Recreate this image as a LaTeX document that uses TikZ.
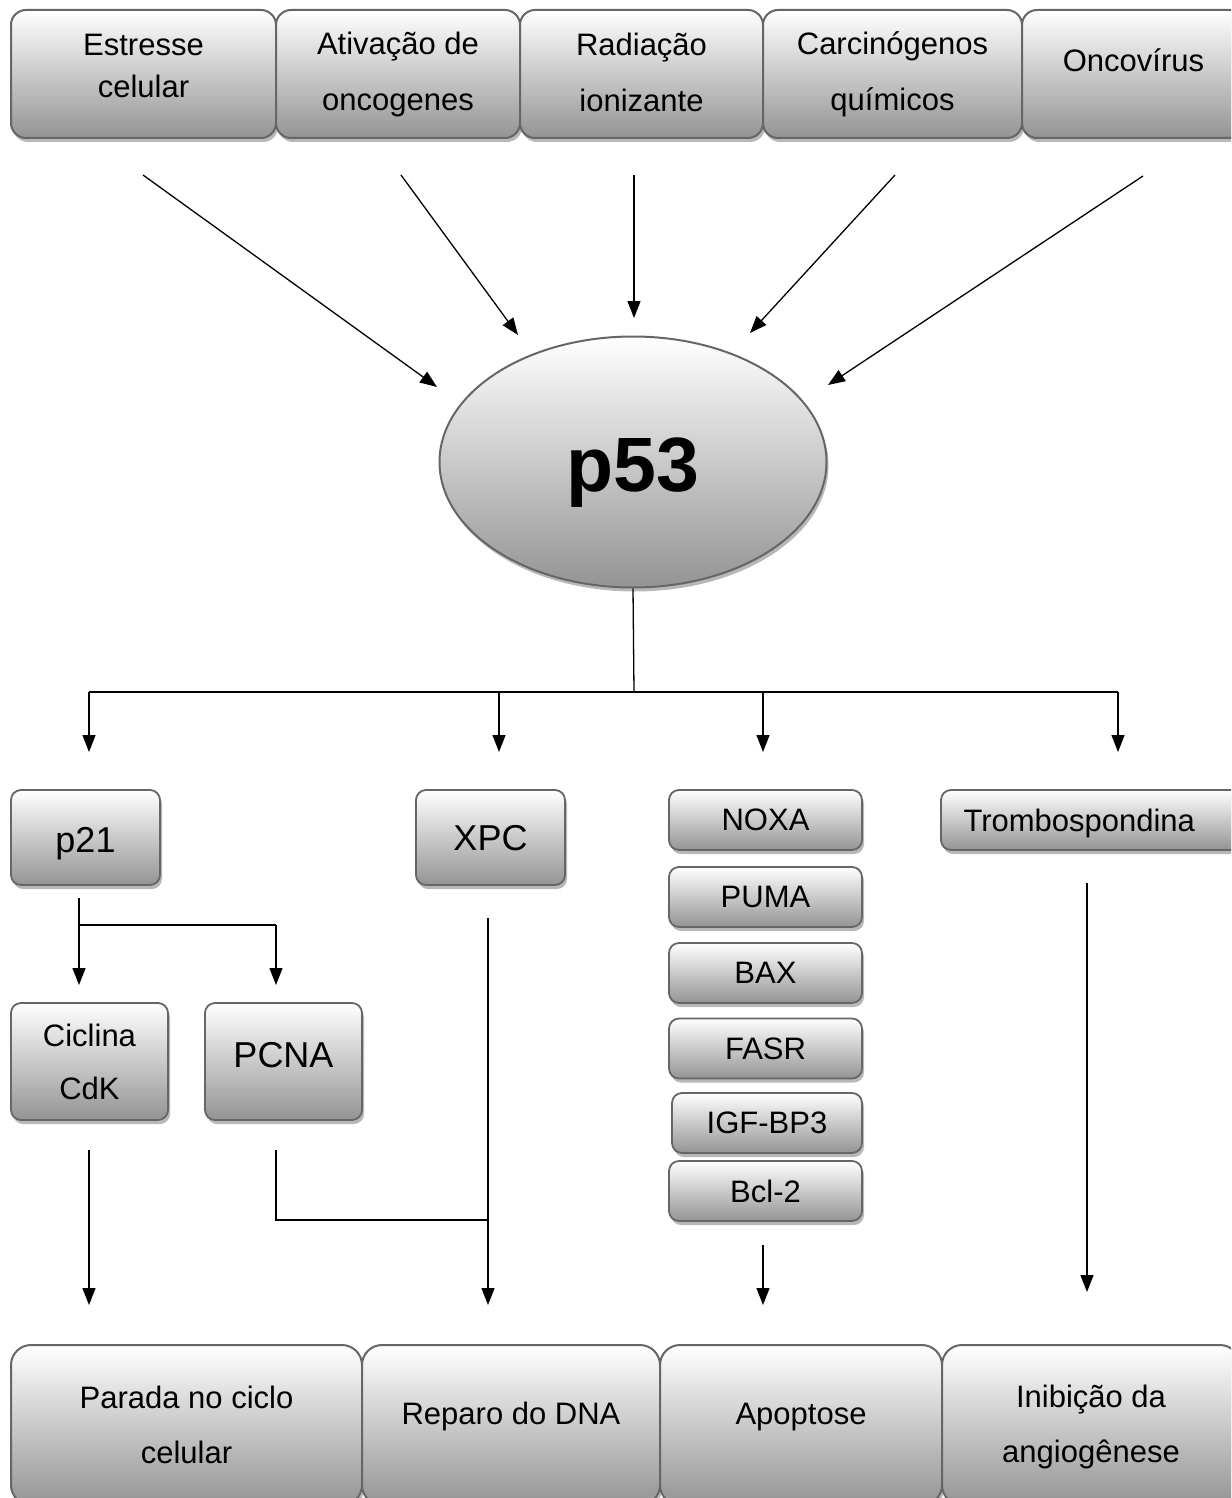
\documentclass[tikz,border=0pt]{standalone}
\usepackage{fontspec}
\setmainfont{Liberation Sans}
\usetikzlibrary{arrows.meta,shapes.geometric,shadows}
\newcommand{\upby}[2]{\raisebox{#1}[\height][\depth]{\begin{tabular}{@{}c@{}}#2\end{tabular}}}
\tikzset{
  gbox/.style={draw=black!60, line width=2pt, top color=white, bottom color=black!42,
    drop shadow={shadow xshift=2pt, shadow yshift=-4pt, fill=black!28, opacity=1},
    align=center, inner sep=0pt, font=\fontsize{31}{56}\selectfont},
  topbox/.style={gbox, rounded corners=15pt, minimum height=128pt},
  midbox/.style={gbox, rounded corners=10pt, line width=1.8pt},
  botbox/.style={gbox, rounded corners=20pt, minimum height=160pt, font=\fontsize{31}{55}\selectfont},
  big/.style={font=\fontsize{36}{44}\selectfont},
  arr/.style={line width=1.3pt, -{Triangle[length=17pt,width=13pt]}},
  ln/.style={line width=1.3pt},
}
\begin{document}
\begin{tikzpicture}[x=1pt,y=-1pt]
\useasboundingbox (0,0) rectangle (1231,1498);
\clip (0,0) rectangle (1231,1498);

% top row
\node[topbox, minimum width=265pt, font=\fontsize{31}{42}\selectfont] (b1) at (143.5,74) {\upby{6pt}{Estresse\\celular}};
\node[topbox, minimum width=244pt] (b2) at (398,74) {Ativação de\\oncogenes};
\node[topbox, minimum width=243pt] (b3) at (641.5,74) {\upby{2pt}{Radiação\\ionizante}};
\node[topbox, minimum width=259pt] (b4) at (892.5,74) {Carcinógenos\\químicos};
\node[topbox, minimum width=223pt] (b5) at (1133.5,74) {\upby{14pt}{Oncovírus}};

% p53
\node[ellipse, draw=black!60, line width=2pt, top color=white, bottom color=black!42,
  drop shadow={shadow xshift=2pt, shadow yshift=-4pt, fill=black!28, opacity=1},
  minimum width=387pt, minimum height=251pt, inner sep=0pt,
  font=\fontsize{77}{80}\selectfont\bfseries] (p53) at (633,462)
  {\upby{-13pt}{p53}};

% arrows into p53
\coordinate (s1) at (143,175); \coordinate (e1) at (437,387);
\coordinate (s2) at (401,175); \coordinate (e2) at (518,335);
\coordinate (s3) at (634,175); \coordinate (e3) at (634,318);
\coordinate (s4) at (895,175); \coordinate (e4) at (750,333);
\coordinate (s5) at (1143,176); \coordinate (e5) at (828,385);
\draw[arr] (s1) -- (e1);
\draw[arr] (s2) -- (e2);
\draw[arr] (s3) -- (e3);
\draw[arr] (s4) -- (e4);
\draw[arr] (s5) -- (e5);

% branch
\coordinate (hub) at (634,692);
\coordinate (hL) at (89,692); \coordinate (hR) at (1118,692);
\coordinate (h2) at (499,692); \coordinate (h3) at (763,692);
\coordinate (a1) at (89,752); \coordinate (a2) at (499,752);
\coordinate (a3) at (763,752); \coordinate (a4) at (1118,752);
\draw[ln] (p53.south) -- (hub);
\draw[ln] (hL) -- (hR);
\draw[arr] (hL) -- (a1);
\draw[arr] (h2) -- (a2);
\draw[arr] (h3) -- (a3);
\draw[arr] (hR) -- (a4);

% middle boxes
\node[midbox, big, minimum width=149pt, minimum height=95pt] (p21) at (85.5,837.5) {\upby{-6pt}{p21}};
\node[midbox, big, minimum width=149pt, minimum height=95pt] (xpc) at (490.5,837.5) {\upby{-4pt}{XPC}};
\node[midbox, minimum width=193pt, minimum height=60pt] (noxa) at (765.5,820) {NOXA};
\node[midbox, minimum width=193pt, minimum height=60pt] (puma) at (765.5,897) {PUMA};
\node[midbox, minimum width=193pt, minimum height=60pt] (bax) at (765.5,973) {BAX};
\node[midbox, minimum width=193pt, minimum height=60pt] (fasr) at (765.5,1048.5) {FASR};
\node[midbox, minimum width=190pt, minimum height=60pt] (igf) at (767,1123) {IGF-BP3};
\node[midbox, minimum width=193pt, minimum height=60pt] (bcl) at (765.5,1191) {Bcl-2};
\node[midbox, minimum width=305pt, minimum height=60pt, text width=290pt, align=left] (trombo) at (1093.5,820) {\hspace*{15pt}\raisebox{-3pt}[\height][\depth]{Trombospondina}};

\node[midbox, minimum width=157pt, minimum height=117pt, font=\fontsize{31}{53}\selectfont] (cic) at (89.5,1061.5) {Ciclina\\CdK};
\node[midbox, big, minimum width=157pt, minimum height=117pt] (pcna) at (283.5,1061.5) {\upby{3pt}{PCNA}};

% p21 split
\coordinate (q0) at (79,898); \coordinate (q1) at (79,925); \coordinate (q2) at (276,925);
\coordinate (q3) at (79,985); \coordinate (q4) at (276,985);
\draw[ln] (q0) -- (q1) -- (q2);
\draw[arr] (q1) -- (q3);
\draw[arr] (q2) -- (q4);

% to bottom
\coordinate (c0) at (89,1150); \coordinate (c1) at (89,1305);
\draw[arr] (c0) -- (c1);
\coordinate (n0) at (276,1150); \coordinate (n1) at (276,1220); \coordinate (n2) at (488,1220);
\draw[ln] (n0) -- (n1) -- (n2);
\coordinate (x0) at (488,918); \coordinate (x1) at (488,1305);
\draw[arr] (x0) -- (x1);
\coordinate (ap0) at (763,1245); \coordinate (ap1) at (763,1305);
\draw[arr] (ap0) -- (ap1);
\coordinate (t0) at (1087,883); \coordinate (t1) at (1087,1292);
\draw[arr] (t0) -- (t1);

% bottom row
\node[botbox, minimum width=351pt] (r1) at (186.5,1425) {Parada no ciclo\\celular};
\node[botbox, minimum width=298pt] (r2) at (511,1425) {\upby{12pt}{Reparo do DNA}};
\node[botbox, minimum width=282pt] (r3) at (801,1425) {\upby{12pt}{Apoptose}};
\node[botbox, minimum width=298pt, font=\fontsize{31}{55}\selectfont] (r4) at (1091,1425) {\upby{1pt}{Inibição da\\angiogênese}};
\end{tikzpicture}
\end{document}
